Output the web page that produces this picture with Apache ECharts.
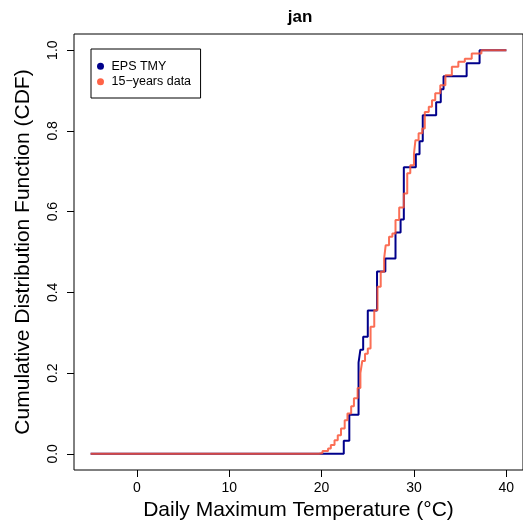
<!DOCTYPE html>
<html><head><meta charset="utf-8">
<script src="https://cdn.jsdelivr.net/npm/echarts@6/dist/echarts.min.js"></script>
<style>html,body{margin:0;padding:0;background:#fff}#c{width:523px;height:530px}</style>
</head><body><div id="c"></div>
<script>
// ---- data ----
const titleText = 'jan';
const xTicks = [0, 10, 20, 30, 40];
const yTicks = [0, 0.2, 0.4, 0.6, 0.8, 1.0];
const xRange = [-5, 40];
const seriesNames = ['EPS TMY', '15\u2212years data'];

// EPS TMY: 31 January daily maximum temperatures (°C)
const tmyTemps = [22.4, 23.0, 23.0, 24.0, 24.0, 24.0, 24.0, 24.2, 24.5, 25.0, 25.0,
  26.0, 26.0, 26.0, 26.9, 28.0, 28.0, 28.55, 28.9, 28.9, 28.9, 28.9, 30.2, 30.6,
  30.95, 30.95, 32.4, 32.9, 33.2, 35.7, 37.1];

const yearsTemp = [19.7, 20.1, 20.7, 21.0, 21.4, 21.75, 22.1, 22.5, 22.8, 23.2, 23.5,
  23.9, 24.2, 24.4, 24.7, 25.0, 25.3, 25.7, 26.05, 26.4, 26.77, 26.94, 27.3, 27.66,
  28.0, 28.4, 28.9, 29.27, 29.6, 30.0, 30.16, 30.5, 30.9, 31.17, 31.6, 31.95, 32.3,
  32.85, 33.4, 34.1, 34.8, 35.5, 36.25, 37.3];
const yearsCdf = [0.002, 0.007, 0.013, 0.022, 0.034, 0.046, 0.063, 0.083, 0.100, 0.118, 0.138,
  0.163, 0.200, 0.230, 0.248, 0.261, 0.315, 0.356, 0.414, 0.451, 0.484, 0.517, 0.538, 0.546,
  0.579, 0.610, 0.645, 0.695, 0.715, 0.744, 0.777, 0.794, 0.806, 0.847, 0.860, 0.876, 0.893,
  0.913, 0.938, 0.959, 0.971, 0.979, 0.992, 1.0];

// ---- build ----
function ecdfPoints(vals, from, to) {
  const s = vals.slice().sort((a, b) => a - b);
  const n = s.length;
  const pts = [[from, 0]];
  for (let i = 0; i < n; i++) {
    if (i === n - 1 || s[i + 1] !== s[i]) pts.push([s[i], (i + 1) / n]);
  }
  pts.push([to, 1]);
  return pts;
}
const tmyData = ecdfPoints(tmyTemps, xRange[0], xRange[1]);
const yearsData = [[xRange[0], 0]].concat(yearsTemp.map((t, i) => [t, yearsCdf[i]]), [[xRange[1], 1]]);

const FONT = "'Liberation Sans', Arial, Helvetica, sans-serif";
const xPad = (xRange[1] - xRange[0]) * 0.04;

const chart = echarts.init(document.getElementById('c'), null, {renderer: 'canvas'});
chart.setOption({
  animation: false,
  backgroundColor: '#ffffff',
  title: {
    text: titleText, left: 300, top: 9, padding: 0, textAlign: 'center',
    textStyle: {fontFamily: FONT, fontSize: 17, fontWeight: 'bold', color: '#000'}
  },
  legend: {
    data: seriesNames, orient: 'vertical', left: 91, top: 49,
    icon: 'circle', itemWidth: 12, itemHeight: 7, itemGap: 2.5,
    padding: [10.75, 9.5, 9.75, 6],
    borderColor: '#000', borderWidth: 1, borderRadius: 0,
    textStyle: {fontFamily: FONT, fontSize: 12.5, color: '#000'}
  },
  grid: {left: 74, top: 34, right: -4, bottom: 60, show: true, borderColor: '#000', borderWidth: 1, containLabel: false},
  xAxis: {
    type: 'value', min: xRange[0] - xPad, max: xRange[1] + xPad, position: 'bottom',
    name: 'Daily Maximum Temperature (\u00B0C)', nameLocation: 'middle', nameGap: 27,
    nameTextStyle: {fontFamily: FONT, fontSize: 21, color: '#000'},
    axisLine: {show: false, onZero: false},
    axisTick: {show: true, length: 7, inside: false, customValues: xTicks, lineStyle: {color: '#000', width: 1}},
    axisLabel: {show: true, margin: 11, customValues: xTicks, fontFamily: FONT, fontSize: 14, color: '#000'},
    splitLine: {show: false}
  },
  yAxis: {
    type: 'value', min: -0.04, max: 1.04, position: 'left',
    name: 'Cumulative Distribution Function (CDF)', nameLocation: 'middle', nameGap: 40,
    nameTextStyle: {fontFamily: FONT, fontSize: 21, color: '#000'},
    axisLine: {show: false, onZero: false},
    axisTick: {show: true, length: 7, inside: false, customValues: yTicks, lineStyle: {color: '#000', width: 1}},
    axisLabel: {show: true, margin: 14, rotate: 90, customValues: yTicks, fontFamily: FONT, fontSize: 14, color: '#000',
      formatter: v => v.toFixed(1)},
    splitLine: {show: false}
  },
  series: [
    {
      name: seriesNames[0], type: 'line', step: 'end', data: tmyData,
      showSymbol: false, symbol: 'none',
      itemStyle: {color: '#00008B'},
      lineStyle: {color: '#00008B', width: 2},
      z: 2
    },
    {
      name: seriesNames[1], type: 'line', step: 'end', data: yearsData,
      showSymbol: false, symbol: 'none',
      itemStyle: {color: '#FF6347'},
      lineStyle: {color: 'rgba(250,85,55,0.85)', width: 2},
      z: 3
    }
  ]
});
</script></body></html>
